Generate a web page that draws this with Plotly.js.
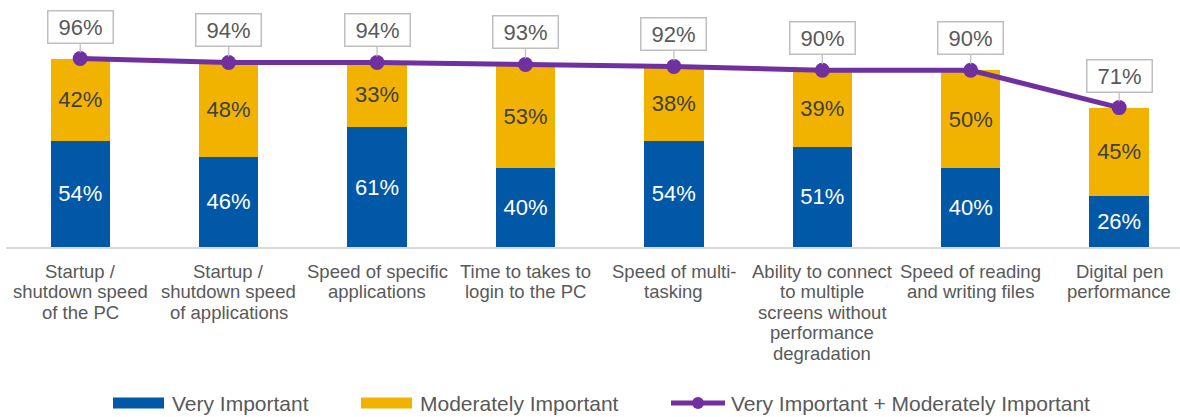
<!DOCTYPE html>
<html>
<head>
<meta charset="utf-8">
<script src="https://cdn.plot.ly/plotly-3.0.1.min.js"></script>
<style>
  html, body { margin: 0; padding: 0; background: #ffffff; }
  #chart { width: 1180px; height: 417px; }
</style>
</head>
<body>
<div id="chart"></div>
<script>
// ---- data ----
var categories = [
  "Startup /<br>shutdown speed<br>of the PC",
  "Startup /<br>shutdown speed<br>of applications",
  "Speed of specific<br>applications",
  "Time to takes to<br>login to the PC",
  "Speed of multi-<br>tasking",
  "Ability to connect<br>to multiple<br>screens without<br>performance<br>degradation",
  "Speed of reading<br>and writing files",
  "Digital pen<br>performance"
];
var veryImportant = [54, 46, 61, 40, 54, 51, 40, 26];
var moderatelyImportant = [42, 48, 33, 53, 38, 39, 50, 45];
var combined = [96, 94, 94, 93, 92, 90, 90, 71];
var seriesNames = ["Very Important", "Moderately Important", "Very Important + Moderately Important"];

// ---- styling ----
var BLUE = "#0058A6", GOLD = "#F2B300", PURPLE = "#7030A0", GRAY = "#595959";
var FONT = "Liberation Sans, Arial, sans-serif";
var W = 1180, H = 417, ML = 6, MR = 0, MT = 2, MB = 170;
var PW = W - ML - MR, PH = H - MT - MB;
function px2x(px) { return (px - ML) / PW; }
function py2y(py) { return (H - MB - py) / PH; }

var xIdx = categories.map(function (c, i) { return i; });

var traces = [
  {
    type: "bar", name: seriesNames[0], x: xIdx, y: veryImportant,
    marker: { color: BLUE }, width: 0.4,
    text: veryImportant.map(function (v) { return v + "%"; }),
    textposition: "inside", insidetextanchor: "middle", constraintext: "none",
    textfont: { family: FONT, size: 22, color: "#ffffff" },
    hoverinfo: "skip", showlegend: false
  },
  {
    type: "bar", name: seriesNames[1], x: xIdx, y: moderatelyImportant,
    marker: { color: GOLD }, width: 0.4,
    text: moderatelyImportant.map(function (v) { return v + "%"; }),
    textposition: "inside", insidetextanchor: "middle", constraintext: "none",
    textfont: { family: FONT, size: 22, color: "#404040" },
    hoverinfo: "skip", showlegend: false
  },
  {
    type: "scatter", mode: "lines+markers", name: seriesNames[2], x: xIdx, y: combined,
    line: { color: PURPLE, width: 5 },
    marker: { color: PURPLE, size: 15 },
    hoverinfo: "skip", showlegend: false, cliponaxis: false
  }
];

var annotations = [];
// value callouts
combined.forEach(function (v, i) {
  annotations.push({
    x: i, y: v, xref: "x", yref: "y",
    text: v + "%", showarrow: true, arrowhead: 0, arrowwidth: 1.3,
    arrowcolor: "#BFBFBF", ax: 0, ay: -32, standoff: 6,
    bgcolor: "#ffffff", bordercolor: "#BFBFBF", borderwidth: 1.5, borderpad: 4,
    width: 56, height: 23,
    font: { family: FONT, size: 22, color: GRAY }
  });
});
// category labels (one annotation per line for tight line spacing)
categories.forEach(function (c, i) {
  c.split("<br>").forEach(function (line, j) {
    annotations.push({
      x: i, y: 0, xref: "x", yref: "y", showarrow: false,
      text: line, xanchor: "center", yanchor: "middle",
      yshift: -(24 + 20.6 * j),
      font: { family: FONT, size: 18.5, color: GRAY }
    });
  });
});

// custom legend
var shapes = [];
var legendY = 403;
var legendItems = [
  { kind: "rect", color: BLUE, x0: 113, x1: 164, tx: 170 },
  { kind: "rect", color: GOLD, x0: 361, x1: 412, tx: 418 },
  { kind: "line", color: PURPLE, x0: 671, x1: 725, tx: 729 }
];
legendItems.forEach(function (it, k) {
  if (it.kind === "rect") {
    shapes.push({
      type: "rect", xref: "paper", yref: "paper",
      x0: px2x(it.x0), x1: px2x(it.x1), y0: py2y(legendY + 5.5), y1: py2y(legendY - 5.5),
      fillcolor: it.color, line: { width: 0 }
    });
  } else {
    shapes.push({
      type: "line", xref: "paper", yref: "paper",
      x0: px2x(it.x0), x1: px2x(it.x1), y0: py2y(legendY), y1: py2y(legendY),
      line: { color: it.color, width: 5 }
    });
    var cx = (it.x0 + it.x1) / 2;
    shapes.push({
      type: "circle", xref: "paper", yref: "paper",
      x0: px2x(cx - 6), x1: px2x(cx + 6), y0: py2y(legendY + 6), y1: py2y(legendY - 6),
      fillcolor: it.color, line: { width: 0 }
    });
  }
  annotations.push({
    xref: "paper", yref: "paper", x: px2x(it.tx), y: py2y(legendY),
    xanchor: "left", yanchor: "middle", showarrow: false,
    text: seriesNames[k], font: { family: FONT, size: 21, color: GRAY }
  });
});

var layout = {
  width: W, height: H,
  margin: { l: ML, r: MR, t: MT, b: MB, pad: 0 },
  barmode: "stack",
  paper_bgcolor: "#ffffff", plot_bgcolor: "#ffffff",
  showlegend: false,
  font: { family: FONT, color: GRAY },
  xaxis: {
    type: "linear", range: [-0.5, 7.41], showgrid: false, zeroline: false,
    showline: true, linecolor: "#D9D9D9", linewidth: 2,
    showticklabels: false, ticks: "", fixedrange: true
  },
  yaxis: {
    range: [0, 124.8], showgrid: false, zeroline: false, showline: false,
    showticklabels: false, ticks: "", fixedrange: true
  },
  annotations: annotations,
  shapes: shapes
};

Plotly.newPlot("chart", traces, layout, { displayModeBar: false, staticPlot: true });
</script>
</body>
</html>
